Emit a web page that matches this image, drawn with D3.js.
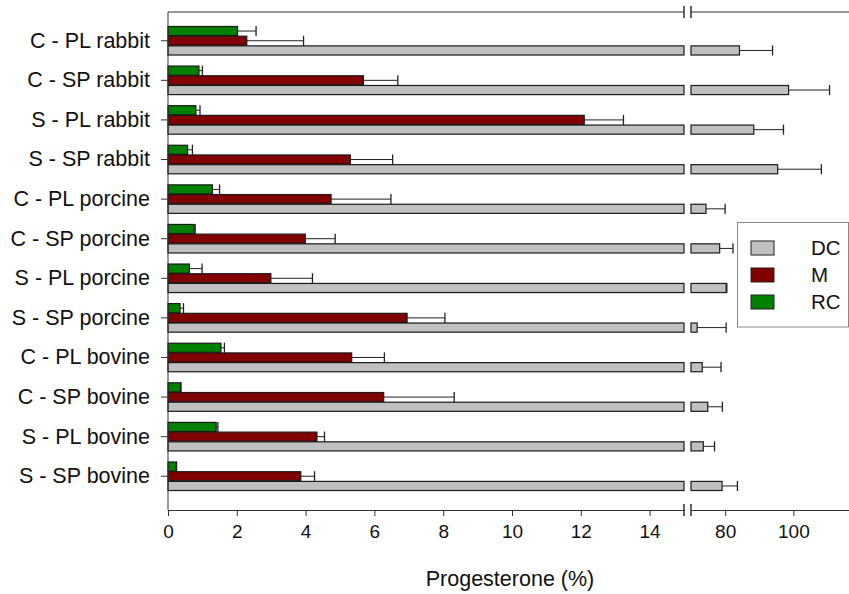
<!DOCTYPE html>
<html lang="en">
<head>
  <meta charset="UTF-8">
  <title>Progesterone bars</title>
  <script src="https://d3js.org/d3.v7.min.js"></script>
  <style>
    body { margin: 0; background: #fff; }
    svg { font-family: 'Liberation Sans', Arial, sans-serif; }
  </style>
</head>
<body>
  <svg id="chart" width="849" height="594"></svg>
  <script>
    const categories = [
      "C - PL rabbit", "C - SP rabbit", "S - PL rabbit", "S - SP rabbit",
      "C - PL porcine", "C - SP porcine", "S - PL porcine", "S - SP porcine",
      "C - PL bovine", "C - SP bovine", "S - PL bovine", "S - SP bovine"
    ];
    // value and upper end of error bar
    const dcValues = [84.2, 98.6, 88.4, 95.4, 74.4, 78.4, 80.3, 71.8, 73.3, 74.9, 73.6, 79.1];
    const dcErrTop = [93.9, 110.6, 97.1, 108.2, 80.0, 82.3, 80.5, 80.3, 78.8, 79.2, 76.9, 83.6];
    const mValues  = [2.29, 5.68, 12.10, 5.30, 4.74, 3.99, 2.99, 6.95, 5.34, 6.27, 4.33, 3.86];
    const mErrTop  = [3.94, 6.68, 13.24, 6.53, 6.48, 4.86, 4.20, 8.05, 6.29, 8.32, 4.55, 4.26];
    const rcValues = [2.02, 0.90, 0.81, 0.57, 1.29, 0.76, 0.62, 0.35, 1.54, 0.36, 1.40, 0.24];
    const rcErrTop = [2.56, 1.00, 0.93, 0.71, 1.50, 0.79, 0.99, 0.45, 1.64, 0.38, 1.45, 0.25];

    const leftTicks = [0, 2, 4, 6, 8, 10, 12, 14];
    const rightTicks = [80, 100];
    const series = ["RC", "M", "DC"];
    const colors = { DC: "#c0c0c0", M: "#800000", RC: "#008000" };
    const legendOrder = ["DC", "M", "RC"];

    const svg = d3.select("#chart");
    const plotTop = 12, plotBottom = 510, plotLeft = 168;
    const breakAt = 15;

    const xLeft = d3.scaleLinear().domain([0, breakAt]).range([plotLeft, 684]);
    const xRight = d3.scaleLinear().domain([70, 116.3]).range([691, 849]);

    const y = d3.scaleBand().domain(categories).range([16, 501]).padding(0.25);
    const ySub = d3.scaleBand().domain(series).range([0, y.bandwidth()]).padding(0.06);

    const rows = categories.map((c, i) => ({
      cat: c,
      DC: dcValues[i], DCe: dcErrTop[i],
      M: mValues[i], Me: mErrTop[i],
      RC: rcValues[i], RCe: rcErrTop[i]
    }));

    const g = svg.append("g");

    // bars
    rows.forEach(r => {
      series.forEach(s => {
        const yy = y(r.cat) + ySub(s);
        const h = ySub.bandwidth();
        const v = r[s];
        g.append("rect")
          .attr("x", xLeft(0))
          .attr("y", yy)
          .attr("width", xLeft(Math.min(v, breakAt)) - xLeft(0))
          .attr("height", h)
          .attr("fill", colors[s])
          .attr("stroke", "#1a1a1a")
          .attr("stroke-width", 1.2);
        if (v > 70) {
          g.append("rect")
            .attr("x", xRight(70))
            .attr("y", yy)
            .attr("width", xRight(v) - xRight(70))
            .attr("height", h)
            .attr("fill", colors[s])
            .attr("stroke", "#1a1a1a")
            .attr("stroke-width", 1.2);
        }
        // error bar (upper side only)
        const sc = v > 70 ? xRight : xLeft;
        const e = r[s + "e"];
        const cy = yy + h / 2;
        g.append("line")
          .attr("x1", sc(v)).attr("x2", sc(e))
          .attr("y1", cy).attr("y2", cy)
          .attr("stroke", "#222").attr("stroke-width", 1);
        g.append("line")
          .attr("x1", sc(e)).attr("x2", sc(e))
          .attr("y1", cy - h / 2 - 0.5).attr("y2", cy + h / 2 + 0.5)
          .attr("stroke", "#222").attr("stroke-width", 1.3);
      });
    });

    // axes
    const axisColor = "#333";
    const tickShift = ySub("M") + ySub.bandwidth() / 2 - y.bandwidth() / 2;
    const leftAxis = svg.append("g")
      .attr("transform", `translate(${plotLeft},${tickShift})`)
      .call(d3.axisLeft(y).tickSize(7).tickSizeOuter(0).tickPadding(11));
    leftAxis.select(".domain").remove();
    leftAxis.selectAll("line").attr("stroke", axisColor);
    leftAxis.selectAll("text").attr("font-size", 21.5).attr("fill", "#111")
      .attr("font-family", "'Liberation Sans', Arial, sans-serif");

    svg.append("line")
      .attr("x1", plotLeft).attr("x2", plotLeft).attr("y1", plotTop).attr("y2", plotBottom)
      .attr("stroke", axisColor);

    const bAxisL = svg.append("g")
      .attr("transform", `translate(0,${plotBottom})`)
      .call(d3.axisBottom(xLeft).tickValues(leftTicks).tickSize(6).tickSizeOuter(0).tickPadding(9));
    const bAxisR = svg.append("g")
      .attr("transform", `translate(0,${plotBottom})`)
      .call(d3.axisBottom(xRight).tickValues(rightTicks).tickSize(6).tickSizeOuter(0).tickPadding(9));
    [bAxisL, bAxisR].forEach(a => {
      a.select(".domain").attr("stroke", axisColor);
      a.selectAll("line").attr("stroke", axisColor);
      a.selectAll("text").attr("font-size", 19).attr("fill", "#111")
        .attr("font-family", "'Liberation Sans', Arial, sans-serif");
    });

    // top border, split at break
    svg.append("line").attr("x1", plotLeft).attr("x2", xLeft(breakAt))
      .attr("y1", plotTop).attr("y2", plotTop).attr("stroke", axisColor);
    svg.append("line").attr("x1", xRight(70)).attr("x2", 849)
      .attr("y1", plotTop).attr("y2", plotTop).attr("stroke", axisColor);

    // break marks
    [plotTop, plotBottom].forEach(yy => {
      [xLeft(breakAt), xRight(70)].forEach(xx => {
        svg.append("line").attr("x1", xx).attr("x2", xx)
          .attr("y1", yy - 6).attr("y2", yy + 6)
          .attr("stroke", "#222").attr("stroke-width", 1.4);
      });
    });

    // axis title
    svg.append("text")
      .attr("x", 510).attr("y", 586)
      .attr("text-anchor", "middle")
      .attr("font-size", 21.5).attr("fill", "#111")
      .text("Progesterone (%)");

    // legend
    const lg = svg.append("g");
    lg.append("rect")
      .attr("x", 737.5).attr("y", 222.5).attr("width", 111).attr("height", 104.5)
      .attr("fill", "#fff").attr("stroke", "#888");
    legendOrder.forEach((s, i) => {
      lg.append("rect")
        .attr("x", 751).attr("y", 241 + i * 27).attr("width", 23).attr("height", 14)
        .attr("fill", colors[s]).attr("stroke", "#222");
      lg.append("text")
        .attr("x", 811).attr("y", 248 + i * 27).attr("dy", "0.36em")
        .attr("font-size", 20.5).attr("fill", "#111")
        .text(s);
    });
  </script>
</body>
</html>
